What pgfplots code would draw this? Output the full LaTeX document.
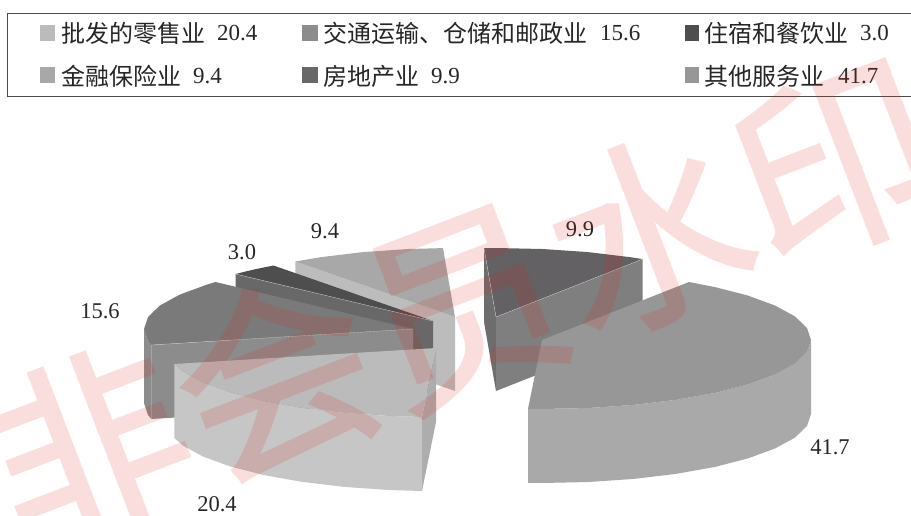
\documentclass[border=0pt]{standalone}
\usepackage{fontspec}
\setmainfont{Liberation Serif}
\newfontfamily\cjk{Noto Sans CJK SC}
\newfontfamily\cjkw[FakeBold=1.2]{Noto Sans CJK SC}
\usepackage{pgfplots}
\pgfplotsset{compat=1.18}
\definecolor{aT}{HTML}{BBBBBB}\definecolor{aS}{HTML}{C6C6C6}\definecolor{aR}{HTML}{ADADAD}
\definecolor{bT}{HTML}{7A7A7A}\definecolor{bS}{HTML}{8C8C8C}
\definecolor{cT}{HTML}{4E4E4E}\definecolor{cS}{HTML}{686868}
\definecolor{dT}{HTML}{A8A8A8}\definecolor{dS}{HTML}{BCBCBC}
\definecolor{eT}{HTML}{636163}\definecolor{eS}{HTML}{7F7F7F}\definecolor{eL}{HTML}{6D6D6D}
\definecolor{fT}{HTML}{979797}\definecolor{fS}{HTML}{A9A9A9}
\definecolor{edge}{HTML}{CFCFCF}
\definecolor{wm}{HTML}{E02020}
\begin{document}
\begin{tikzpicture}
\path[use as bounding box,clip] (0,0) rectangle (911pt,515pt);
\begin{axis}[at={(0,0)},anchor=south west,scale only axis,width=911pt,height=515pt,
  xmin=0,xmax=911,ymin=0,ymax=515,y dir=reverse,hide axis,clip=false]
% legend frame
\addplot[draw=black!70,line width=1pt] coordinates {(920,13.5)(7,13.5)(7,96)(920,96)};
% legend swatches
\addplot[fill=aT,draw=none] coordinates {(40,25)(55,25)(55,41)(40,41)};
\addplot[fill=bS,draw=none] coordinates {(302,25)(318,25)(318,41)(302,41)};
\addplot[fill=cT,draw=none] coordinates {(685,25)(699,25)(699,41)(685,41)};
\addplot[fill=dT,draw=none] coordinates {(40,67)(55,67)(55,83)(40,83)};
\addplot[fill=cS,draw=none] coordinates {(302,67)(318,67)(318,83)(302,83)};
\addplot[fill=fT,draw=none] coordinates {(685,67)(699,67)(699,83)(685,83)};
% 9.4
\addplot[fill=dS,draw=none] coordinates {(295.4,261.5)(455,317)(455,391)(295.4,335.5)};
\addplot[fill=dT,draw=none] coordinates {(455,317)(295.4,261.5)(320.5,257.2)(363,252.1)(408.2,249)(443,248.1)};
% 3.0
\addplot[fill=cS,draw=none] coordinates {(235.5,274)(433,321)(433,395)(235.5,348)};
\addplot[fill=cT,draw=none] coordinates {(433,321)(235.5,274)(253,269.7)(273.4,265.5)};
\addplot[draw=edge,line width=0.3pt] coordinates {(235.5,274)(433,321)};
% 15.6
\addplot[fill=bS,draw=none] coordinates {(144,329)(148,341)(151.3,345)(413,329)(413,403)(151.3,419)(148,415)(144,403)};
\addplot[fill=bT,draw=none] coordinates {(413,329)(151.3,345)(148,341)(144,329)(148,317)(160,305.4)(180,294.5)(207,284.6)(215.5,282)};
\addplot[draw=edge,line width=0.3pt] coordinates {(151.3,419)(151.3,345)(413,329)};
% 20.4
\addplot[fill=aR,draw=none] coordinates {(436,348)(422,417)(422,491)(436,422)};
\addplot[fill=aS,draw=none] coordinates {(422,417)(389.2,416)(344,412.9)(301.5,407.8)(263,400.9)(230,392.4)(203,382.5)(183,371.6)(174.3,364)(174.3,438)(183,445.6)(203,456.5)(230,466.4)(263,474.9)(301.5,481.8)(344,486.9)(389.2,490)(422,491)};
\addplot[fill=aT,draw=none] coordinates {(436,348)(422,417)(389.2,416)(344,412.9)(301.5,407.8)(263,400.9)(230,392.4)(203,382.5)(183,371.6)(174.3,364)};
% 9.9
\addplot[fill=eL,draw=none] coordinates {(484,248)(496,317)(496,391)(484,322)};
\addplot[fill=eS,draw=none] coordinates {(642.6,259.1)(496,317)(496,391)(642.6,333.1)};
\addplot[fill=eT,draw=none] coordinates {(496,317)(484,248)(496,248)(542.8,249)(588,252.1)(630.5,257.2)(642.6,259.1)};
\addplot[draw=edge,line width=0.3pt] coordinates {(484,248)(496,317)(642.6,259.1)};
% 41.7
\addplot[fill=fS,draw=none] coordinates {(811,340)(807,352)(795,363.6)(775,374.5)(748,384.4)(715,392.9)(676.5,399.8)(634,404.9)(588.7,408)(542,409)(528,408.9)(528,482.9)(542,483)(588.7,482)(634,478.9)(676.5,473.8)(715,466.9)(748,458.4)(775,448.5)(795,437.6)(807,426)(811,414)};
\addplot[fill=fT,draw=none] coordinates {(542,340)(689,282)(715,287.1)(748,295.6)(775,305.5)(795,316.4)(807,328)(811,340)(807,352)(795,363.6)(775,374.5)(748,384.4)(715,392.9)(676.5,399.8)(634,404.9)(588.7,408)(542,409)(528,408.9)};
% legend text
\begin{scope}[every node/.style={font=\fontsize{23}{23}\selectfont,inner sep=0pt,anchor=west,text=black!85}]
\node at (axis cs:61,33) {\cjk\fontsize{24}{24}\selectfont 批发的零售业};
\node at (axis cs:217,33) {20.4};
\node at (axis cs:323,33) {\cjk\fontsize{24}{24}\selectfont 交通运输、仓储和邮政业};
\node at (axis cs:600,33) {15.6};
\node at (axis cs:704,33) {\cjk\fontsize{24}{24}\selectfont 住宿和餐饮业};
\node at (axis cs:860,33) {3.0};
\node at (axis cs:61,76) {\cjk\fontsize{24}{24}\selectfont 金融保险业};
\node at (axis cs:193,76) {9.4};
\node at (axis cs:323,76) {\cjk\fontsize{24}{24}\selectfont 房地产业};
\node at (axis cs:431,76) {9.9};
\node at (axis cs:704,76) {\cjk\fontsize{24}{24}\selectfont 其他服务业};
\node at (axis cs:838,76) {41.7};
\end{scope}
% data labels
\begin{scope}[every node/.style={font=\fontsize{22.5}{22.5}\selectfont,inner sep=0pt,anchor=center,text=black!85}]
\node at (axis cs:325,231) {9.4};
\node at (axis cs:580,229) {9.9};
\node at (axis cs:242,252) {3.0};
\node at (axis cs:100,311) {15.6};
\node at (axis cs:217,504) {20.4};
\node at (axis cs:830,447) {41.7};
\end{scope}
% watermark
\begin{scope}[transparency group,opacity=0.15]
\node[rotate=21,text=wm,inner sep=0pt,font=\cjkw\fontsize{200}{200}\selectfont] at (axis cs:462,305) {非会员水印};
\end{scope}
\end{axis}
\end{tikzpicture}
\end{document}
